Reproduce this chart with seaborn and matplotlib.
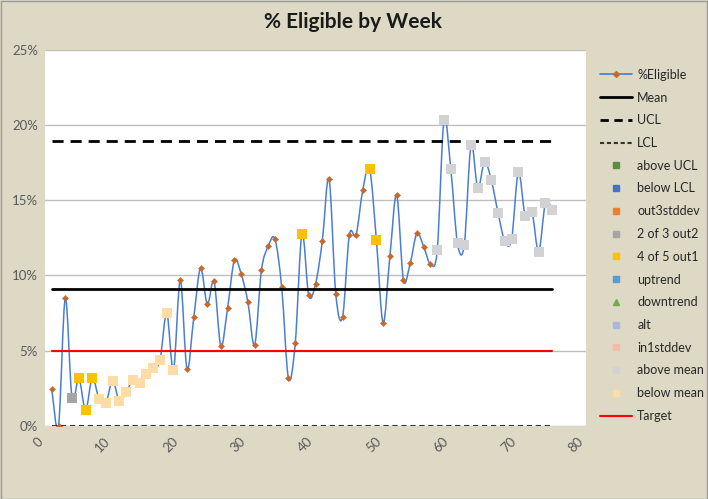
import numpy as np
import pandas as pd
import matplotlib
matplotlib.use("Agg")
import matplotlib.pyplot as plt
import seaborn as sns
from matplotlib.path import Path
from matplotlib.patches import PathPatch, Rectangle
from matplotlib.lines import Line2D
from matplotlib.ticker import FuncFormatter

# ---------------- data ----------------
weeks = list(range(1, 76))
pct_eligible = [
    2.45, 0.0, 8.49, 1.82, 3.16, 1.05, 3.20, 1.76, 1.53, 2.98,
    1.65, 2.22, 3.05, 2.87, 3.45, 3.83, 4.34, 7.49, 3.71, 9.69,
    3.76, 7.20, 10.49, 8.09, 9.60, 5.31, 7.82, 11.00, 10.11, 8.24,
    5.36, 10.33, 11.93, 12.42, 9.20, 3.16, 5.47, 12.78, 8.67, 9.42,
    12.27, 16.43, 8.76, 7.23, 12.67, 12.71, 15.71, 17.11, 12.38, 6.85,
    11.27, 15.36, 9.71, 10.80, 12.80, 11.91, 10.76, 11.67, 20.36, 17.11,
    12.13, 12.05, 18.67, 15.80, 17.58, 16.33, 14.16, 12.27, 12.42, 16.87,
    13.98, 14.25, 11.58, 14.82, 14.38,
]
mean_value = 9.1
ucl_value = 18.95
lcl_value = 0.0
target_value = 5.0

out2_weeks = [4]
out1_weeks = [5, 6, 7, 38, 48, 49]
below_mean_weeks = [8, 9, 10, 11, 12, 13, 14, 15, 16, 17, 18, 19]
above_mean_weeks = [58, 59, 60, 61, 62, 63, 64, 65, 66, 67, 68, 69, 70, 71, 72, 73, 74, 75]

legend_labels = ["%Eligible", "Mean", "UCL", "LCL", "above UCL", "below LCL",
                 "out3stddev", "2 of 3 out2", "4 of 5 out1", "uptrend", "downtrend",
                 "alt", "in1stddev", "above mean", "below mean", "Target"]
y_ticks = [0, 5, 10, 15, 20, 25]
x_ticks = [0, 10, 20, 30, 40, 50, 60, 70, 80]

# ---------------- style ----------------
sns.set_theme(style="white")
plt.rcParams["font.family"] = ["Lato", "DejaVu Sans"]

BG = "#DDD9C4"
BLUE = "#4A7DD4"
ORANGE = "#C8692A"
GOLD = "#FFC000"
GRAY = "#A5A5A5"
ABOVE = "#D2D2D4"
BELOW = "#FFDCA6"

fig = plt.figure(figsize=(7.08, 4.99), dpi=100, facecolor=BG)
ax = fig.add_axes([45 / 708, 1 - 425.7 / 499, (586 - 45) / 708, (425.7 - 50) / 499])
ax.set_facecolor("white")

df = pd.DataFrame({"week": weeks, "pct": pct_eligible})

# smooth line (Excel-style) through the data points using Bezier curves
xs = np.array(weeks, dtype=float)
ys = np.array(pct_eligible, dtype=float)
pts = np.column_stack([xs, ys])
n = len(pts)
verts = [pts[0]]
codes = [Path.MOVETO]
for i in range(n - 1):
    p0 = pts[i - 1] if i > 0 else pts[i]
    p1 = pts[i]
    p2 = pts[i + 1]
    p3 = pts[i + 2] if i + 2 < n else pts[i + 1]
    c1 = p1 + (p2 - p0) / 6.0
    c2 = p2 - (p3 - p1) / 6.0
    verts += [c1, c2, p2]
    codes += [Path.CURVE4] * 3
ax.add_patch(PathPatch(Path(verts, codes), facecolor="none", edgecolor=BLUE,
                       lw=1.1, zorder=2, transform=ax.transData))

# small orange markers on every point
sns.scatterplot(data=df, x="week", y="pct", marker="D", s=10, color=ORANGE,
                edgecolor=ORANGE, linewidth=0.3, ax=ax, zorder=2.5, legend=False)

# control lines
n_w = len(weeks)
sns.lineplot(x=weeks, y=[mean_value] * n_w, color="black", lw=2, ax=ax, zorder=3)
sns.lineplot(x=weeks, y=[ucl_value] * n_w, color="black", lw=2, ax=ax, zorder=3,
             linestyle=(0, (4, 2.5)))
sns.lineplot(x=weeks, y=[lcl_value] * n_w, color="#333333", lw=1.5, ax=ax, zorder=3,
             linestyle=(0, (2.5, 1.8)))
sns.lineplot(x=weeks, y=[target_value] * n_w, color="#FF0000", lw=1.5, ax=ax, zorder=5)

# flagged points
def flag(weeks_sel, color):
    sub = df[df["week"].isin(weeks_sel)]
    sns.scatterplot(data=sub, x="week", y="pct", marker="s", s=50, color=color,
                    edgecolor=color, linewidth=0, ax=ax, zorder=4, legend=False)

flag(out2_weeks, GRAY)
flag(out1_weeks, GOLD)
flag(below_mean_weeks, BELOW)
flag(above_mean_weeks, ABOVE)

# axes formatting
ax.set_xlim(0, 80)
ax.set_ylim(0, 25)
ax.set_yticks(y_ticks)
ax.set_xticks(x_ticks)
ax.yaxis.set_major_formatter(FuncFormatter(lambda v, p: f"{v:.0f}%"))
ax.grid(axis="y", color="#BFBFBF", lw=1, zorder=0)
ax.set_axisbelow(True)
for s in ax.spines.values():
    s.set_visible(False)
ax.tick_params(axis="both", length=0, labelsize=9.5, colors="#595959")
ax.tick_params(axis="y", pad=5)
ax.tick_params(axis="x", pad=7)
for lab in ax.get_xticklabels():
    lab.set_rotation(45)
    lab.set_ha("right")
    lab.set_va("top")
ax.set_xlabel("")
ax.set_ylabel("")

fig.text(353 / 708, 1 - 22 / 499, "% Eligible by Week", ha="center", va="center",
         fontsize=15, fontweight="bold", color="#1A1A1A")

# legend
def sq(c, m="s"):
    return Line2D([], [], linestyle="none", marker=m, markersize=5, color=c,
                  markeredgecolor=c)

handles = [
    Line2D([], [], color=BLUE, lw=1.2, marker="D", markersize=3,
           markerfacecolor=ORANGE, markeredgecolor=ORANGE),
    Line2D([], [], color="black", lw=2),
    Line2D([], [], color="black", lw=2, linestyle=(0, (3, 2))),
    Line2D([], [], color="#333333", lw=1.5, linestyle=(0, (2, 1.3))),
    sq("#5A8F3E"),
    sq("#4472C4"),
    sq("#ED7D31"),
    sq(GRAY),
    sq(GOLD),
    sq("#5B9BD5"),
    sq("#70AD47", "^"),
    sq("#A9B8E2"),
    sq("#F6BBAA"),
    sq(ABOVE),
    sq(BELOW),
    Line2D([], [], color="#FF0000", lw=1.5),
]
leg = fig.legend(handles, legend_labels, loc="upper left",
                 bbox_to_anchor=(591 / 708, 1 - 60 / 499), frameon=False,
                 fontsize=9, handlelength=2.6, handletextpad=0.4,
                 labelspacing=0.86, borderpad=0.2)
for t in leg.get_texts():
    t.set_color("#262626")

fig.patches.append(Rectangle((0.001, 0.001), 0.997, 0.997, transform=fig.transFigure,
                             fill=False, edgecolor="#9A9A9A", lw=1))

fig.savefig("out.png", dpi=100, facecolor=BG)
